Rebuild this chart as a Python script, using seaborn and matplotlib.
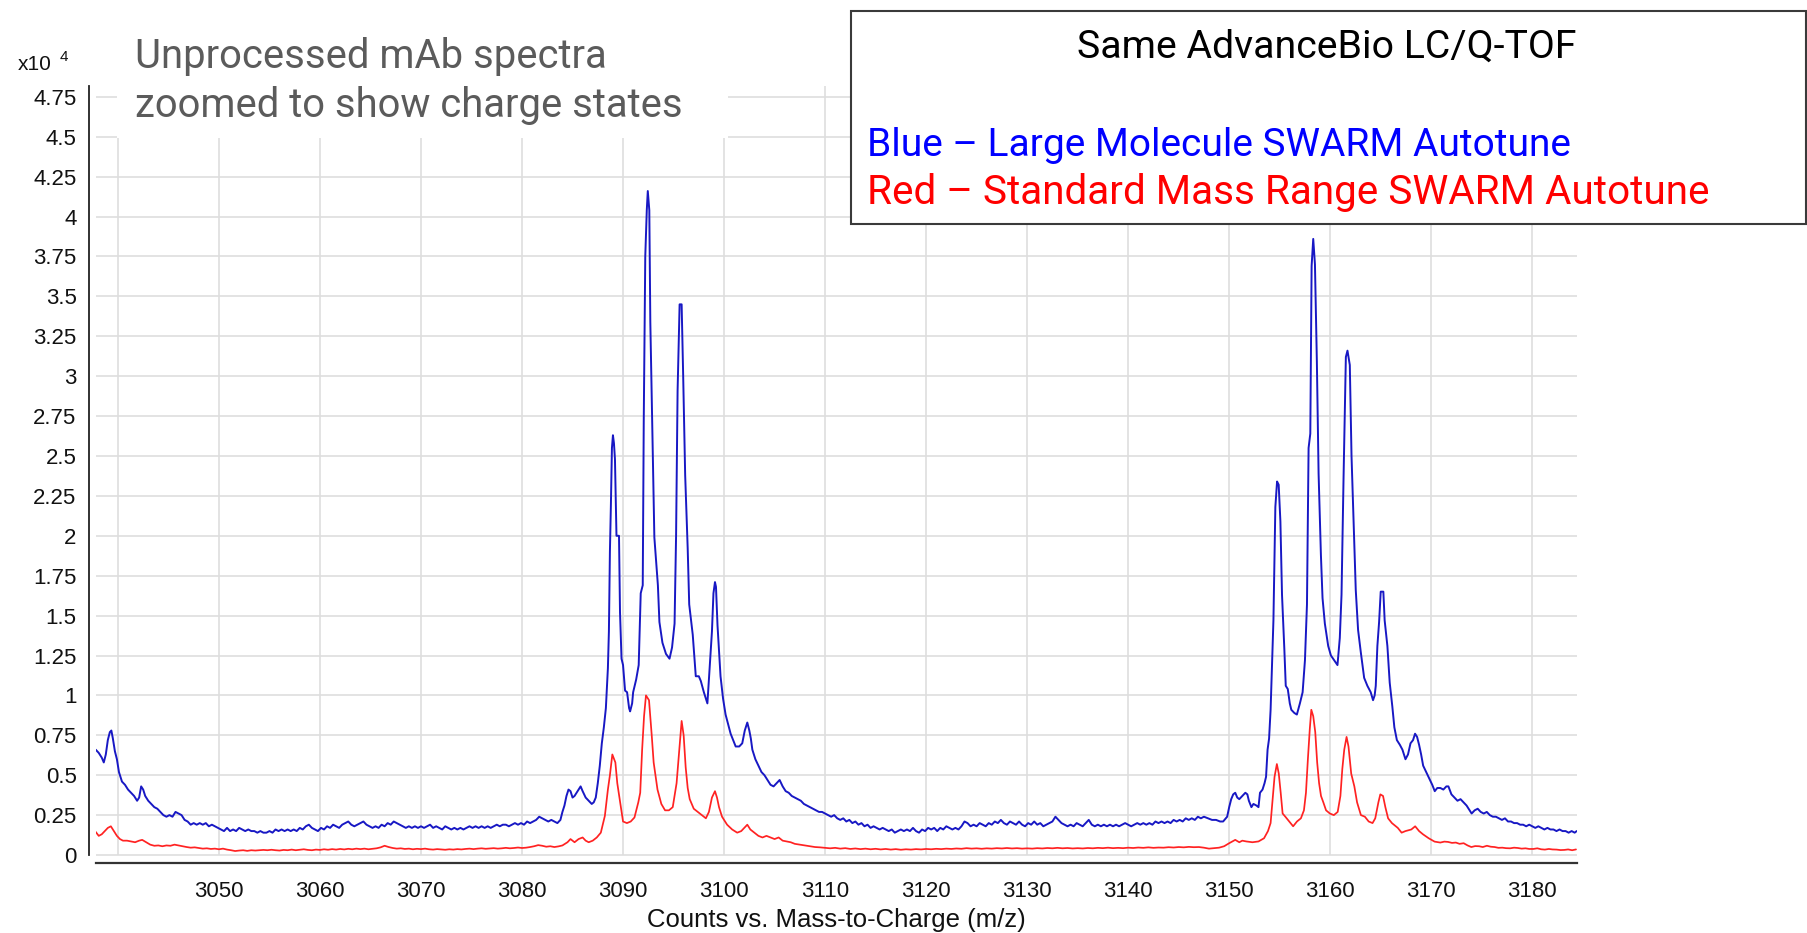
import matplotlib
matplotlib.use("Agg")
import matplotlib.pyplot as plt
import seaborn as sns
from matplotlib.patches import Rectangle
from matplotlib.ticker import FixedLocator, FuncFormatter

# ---------------------------------------------------------------- data
# Large Molecule SWARM autotune (counts x 10^4 vs m/z)
blue_mz = [
    3037.8, 3038.1, 3038.4, 3038.6, 3038.8, 3039.0, 3039.2, 3039.35, 3039.5, 3039.7,
    3039.9, 3040.1, 3040.4, 3040.7, 3041.0, 3041.3, 3041.6, 3041.9, 3042.1, 3042.3,
    3042.5, 3042.7, 3043.0, 3043.3, 3043.6, 3043.9, 3044.2, 3044.5, 3044.8, 3045.1,
    3045.4, 3045.7, 3046.0, 3046.3, 3046.6, 3046.9, 3047.2, 3047.5, 3047.8, 3048.1,
    3048.4, 3048.7, 3049.0, 3049.3, 3049.6, 3049.9, 3050.2, 3050.5, 3050.8, 3051.1,
    3051.4, 3051.7, 3052.0, 3052.3, 3052.6, 3052.9, 3053.2, 3053.5, 3053.8, 3054.1,
    3054.4, 3054.7, 3055.0, 3055.3, 3055.6, 3055.9, 3056.2, 3056.5, 3056.8, 3057.1,
    3057.4, 3057.7, 3058.0, 3058.3, 3058.6, 3058.9, 3059.2, 3059.5, 3059.8, 3060.1,
    3060.4, 3060.7, 3061.0, 3061.3, 3061.6, 3061.9, 3062.2, 3062.5, 3062.8, 3063.1,
    3063.4, 3063.7, 3064.0, 3064.3, 3064.6, 3064.9, 3065.2, 3065.5, 3065.8, 3066.1,
    3066.4, 3066.7, 3067.0, 3067.3, 3067.6, 3067.9, 3068.2, 3068.5, 3068.8, 3069.1,
    3069.4, 3069.7, 3070.0, 3070.3, 3070.6, 3070.9, 3071.2, 3071.5, 3071.8, 3072.1,
    3072.4, 3072.7, 3073.0, 3073.3, 3073.6, 3073.9, 3074.2, 3074.5, 3074.8, 3075.1,
    3075.4, 3075.7, 3076.0, 3076.3, 3076.6, 3076.9, 3077.2, 3077.5, 3077.8, 3078.1,
    3078.4, 3078.7, 3079.0, 3079.3, 3079.6, 3079.9, 3080.2, 3080.5, 3080.8, 3081.1,
    3081.4, 3081.7, 3082.0, 3082.3, 3082.6, 3082.9, 3083.2, 3083.5, 3083.8, 3084.0,
    3084.2, 3084.4, 3084.6, 3084.8, 3085.0, 3085.2, 3085.5, 3085.8, 3086.0, 3086.3,
    3086.6, 3086.9, 3087.1, 3087.3, 3087.5, 3087.7, 3087.9, 3088.1, 3088.3, 3088.5,
    3088.6, 3088.7, 3088.8, 3088.9, 3089.0, 3089.1, 3089.2, 3089.35, 3089.6, 3089.7,
    3089.85, 3090.0, 3090.2, 3090.4, 3090.6, 3090.7, 3090.9, 3091.0, 3091.3, 3091.55,
    3091.75, 3091.95, 3092.05, 3092.2, 3092.35, 3092.45, 3092.6, 3092.7, 3092.9, 3093.1,
    3093.45, 3093.6, 3093.9, 3094.25, 3094.6, 3094.85, 3095.1, 3095.25, 3095.4, 3095.6,
    3095.8, 3095.95, 3096.15, 3096.4, 3096.55, 3096.9, 3097.2, 3097.5, 3097.7, 3098.0,
    3098.2, 3098.35, 3098.5, 3098.8, 3098.95, 3099.1, 3099.2, 3099.35, 3099.65, 3099.9,
    3100.15, 3100.4, 3100.65, 3100.9, 3101.15, 3101.5, 3101.8, 3102.05, 3102.3, 3102.5,
    3102.65, 3102.8, 3103.1, 3103.4, 3103.7, 3104.0, 3104.3, 3104.6, 3104.9, 3105.2,
    3105.5, 3105.8, 3106.1, 3106.4, 3106.7, 3107.0, 3107.3, 3107.6, 3107.9, 3108.2,
    3108.5, 3108.8, 3109.1, 3109.4, 3109.7, 3110.0, 3110.3, 3110.6, 3110.9, 3111.2,
    3111.5, 3111.8, 3112.1, 3112.4, 3112.7, 3113.0, 3113.3, 3113.6, 3113.9, 3114.2,
    3114.5, 3114.8, 3115.1, 3115.4, 3115.7, 3116.0, 3116.3, 3116.6, 3116.9, 3117.2,
    3117.5, 3117.8, 3118.1, 3118.4, 3118.7, 3119.0, 3119.3, 3119.6, 3119.9, 3120.2,
    3120.5, 3120.8, 3121.1, 3121.4, 3121.7, 3122.0, 3122.3, 3122.6, 3122.9, 3123.2,
    3123.5, 3123.8, 3124.1, 3124.4, 3124.7, 3125.0, 3125.3, 3125.6, 3125.9, 3126.2,
    3126.5, 3126.8, 3127.1, 3127.4, 3127.7, 3128.0, 3128.3, 3128.6, 3128.9, 3129.2,
    3129.5, 3129.8, 3130.1, 3130.4, 3130.7, 3131.0, 3131.3, 3131.6, 3131.9, 3132.2,
    3132.5, 3132.8, 3133.1, 3133.4, 3133.7, 3134.0, 3134.3, 3134.6, 3134.9, 3135.2,
    3135.5, 3135.8, 3136.1, 3136.4, 3136.7, 3137.0, 3137.3, 3137.6, 3137.9, 3138.2,
    3138.5, 3138.8, 3139.1, 3139.4, 3139.7, 3140.0, 3140.3, 3140.6, 3140.9, 3141.2,
    3141.5, 3141.8, 3142.1, 3142.4, 3142.7, 3143.0, 3143.3, 3143.6, 3143.9, 3144.2,
    3144.5, 3144.8, 3145.1, 3145.4, 3145.7, 3146.0, 3146.3, 3146.6, 3146.9, 3147.2,
    3147.5, 3147.9, 3148.3, 3148.7, 3149.1, 3149.4, 3149.8, 3150.0, 3150.2, 3150.4,
    3150.6, 3150.8, 3151.0, 3151.3, 3151.6, 3151.8, 3151.95, 3152.2, 3152.4, 3152.7,
    3152.9, 3153.05, 3153.3, 3153.5, 3153.65, 3153.8, 3153.95, 3154.1, 3154.25, 3154.38,
    3154.57, 3154.74, 3154.9, 3155.07, 3155.23, 3155.46, 3155.6, 3155.8, 3156.0, 3156.15,
    3156.45, 3156.7, 3157.0, 3157.27, 3157.5, 3157.7, 3157.86, 3158.03, 3158.16, 3158.32,
    3158.49, 3158.68, 3158.85, 3159.08, 3159.24, 3159.47, 3159.8, 3160.07, 3160.39, 3160.72,
    3160.95, 3161.12, 3161.32, 3161.55, 3161.71, 3161.94, 3162.11, 3162.37, 3162.53, 3162.76,
    3163.03, 3163.36, 3163.68, 3164.01, 3164.24, 3164.4, 3164.51, 3164.67, 3164.84, 3165.0,
    3165.26, 3165.39, 3165.66, 3165.89, 3166.15, 3166.35, 3166.6, 3166.9, 3167.15, 3167.45,
    3167.7, 3167.95, 3168.2, 3168.4, 3168.6, 3168.8, 3169.0, 3169.2, 3169.5, 3169.8,
    3170.1, 3170.35, 3170.6, 3170.9, 3171.2, 3171.5, 3171.7, 3172.0, 3172.3, 3172.6,
    3172.9, 3173.2, 3173.5, 3173.8, 3174.0, 3174.3, 3174.6, 3174.9, 3175.2, 3175.5,
    3175.8, 3176.1, 3176.4, 3176.7, 3177.0, 3177.3, 3177.6, 3177.9, 3178.2, 3178.5,
    3178.8, 3179.1, 3179.4, 3179.7, 3180.0, 3180.3, 3180.6, 3180.9, 3181.2, 3181.5,
    3181.8, 3182.1, 3182.4, 3182.7, 3183.0, 3183.3, 3183.6, 3183.9, 3184.2, 3184.4,
]
blue_counts = [
    0.66, 0.64, 0.61, 0.58, 0.63, 0.72, 0.77, 0.78, 0.73, 0.65,
    0.60, 0.52, 0.46, 0.44, 0.41, 0.39, 0.37, 0.34, 0.36, 0.43,
    0.41, 0.37, 0.34, 0.32, 0.30, 0.29, 0.27, 0.25, 0.24, 0.25,
    0.24, 0.27, 0.26, 0.25, 0.22, 0.21, 0.19, 0.20, 0.19, 0.20,
    0.19, 0.20, 0.18, 0.19, 0.18, 0.17, 0.16, 0.15, 0.17, 0.15,
    0.16, 0.15, 0.17, 0.16, 0.15, 0.16, 0.15, 0.15, 0.14, 0.15,
    0.14, 0.14, 0.15, 0.14, 0.16, 0.15, 0.16, 0.15, 0.16, 0.15,
    0.16, 0.15, 0.17, 0.16, 0.18, 0.19, 0.17, 0.16, 0.15, 0.17,
    0.16, 0.18, 0.17, 0.19, 0.18, 0.17, 0.19, 0.20, 0.21, 0.19,
    0.18, 0.19, 0.20, 0.21, 0.19, 0.18, 0.17, 0.18, 0.17, 0.19,
    0.18, 0.20, 0.19, 0.21, 0.20, 0.19, 0.18, 0.17, 0.18, 0.17,
    0.18, 0.17, 0.18, 0.17, 0.18, 0.19, 0.17, 0.18, 0.17, 0.16,
    0.18, 0.17, 0.16, 0.17, 0.16, 0.17, 0.16, 0.17, 0.18, 0.17,
    0.18, 0.17, 0.18, 0.17, 0.18, 0.17, 0.18, 0.19, 0.18, 0.19,
    0.19, 0.18, 0.19, 0.20, 0.19, 0.20, 0.19, 0.21, 0.20, 0.21,
    0.22, 0.24, 0.23, 0.22, 0.21, 0.22, 0.21, 0.20, 0.22, 0.27,
    0.31, 0.37, 0.41, 0.40, 0.36, 0.37, 0.40, 0.43, 0.40, 0.36,
    0.34, 0.32, 0.33, 0.36, 0.45, 0.56, 0.70, 0.80, 0.92, 1.17,
    1.40, 1.90, 2.20, 2.55, 2.63, 2.58, 2.48, 2.00, 2.00, 1.52,
    1.23, 1.19, 1.03, 1.02, 0.92, 0.90, 0.95, 1.02, 1.10, 1.19,
    1.64, 1.69, 2.72, 3.75, 4.04, 4.16, 4.04, 3.34, 2.65, 1.99,
    1.69, 1.46, 1.33, 1.26, 1.23, 1.30, 1.45, 2.00, 2.91, 3.45,
    3.45, 3.01, 2.38, 1.92, 1.57, 1.38, 1.12, 1.12, 1.09, 1.02,
    0.98, 0.95, 1.10, 1.40, 1.64, 1.71, 1.68, 1.44, 1.12, 0.98,
    0.88, 0.82, 0.76, 0.72, 0.68, 0.68, 0.70, 0.78, 0.83, 0.78,
    0.73, 0.66, 0.60, 0.56, 0.52, 0.50, 0.47, 0.44, 0.43, 0.45,
    0.47, 0.43, 0.40, 0.39, 0.37, 0.36, 0.35, 0.34, 0.32, 0.31,
    0.30, 0.29, 0.28, 0.27, 0.27, 0.26, 0.25, 0.24, 0.25, 0.23,
    0.22, 0.23, 0.21, 0.22, 0.20, 0.21, 0.19, 0.20, 0.18, 0.19,
    0.17, 0.18, 0.17, 0.16, 0.17, 0.16, 0.15, 0.16, 0.14, 0.15,
    0.16, 0.15, 0.16, 0.15, 0.17, 0.15, 0.14, 0.16, 0.15, 0.17,
    0.16, 0.17, 0.15, 0.17, 0.16, 0.18, 0.17, 0.16, 0.17, 0.16,
    0.18, 0.21, 0.20, 0.18, 0.19, 0.18, 0.20, 0.19, 0.18, 0.20,
    0.19, 0.21, 0.20, 0.22, 0.20, 0.19, 0.21, 0.20, 0.19, 0.21,
    0.19, 0.18, 0.20, 0.19, 0.21, 0.19, 0.20, 0.18, 0.19, 0.20,
    0.21, 0.24, 0.22, 0.20, 0.19, 0.18, 0.19, 0.18, 0.20, 0.19,
    0.18, 0.20, 0.22, 0.19, 0.18, 0.19, 0.18, 0.19, 0.18, 0.19,
    0.18, 0.19, 0.18, 0.19, 0.20, 0.19, 0.18, 0.19, 0.20, 0.19,
    0.20, 0.19, 0.20, 0.19, 0.21, 0.20, 0.21, 0.20, 0.21, 0.20,
    0.22, 0.21, 0.22, 0.21, 0.23, 0.22, 0.23, 0.22, 0.24, 0.23,
    0.24, 0.23, 0.22, 0.22, 0.21, 0.21, 0.24, 0.30, 0.35, 0.38,
    0.39, 0.36, 0.35, 0.37, 0.39, 0.38, 0.34, 0.30, 0.32, 0.31,
    0.30, 0.39, 0.41, 0.45, 0.49, 0.66, 0.73, 0.91, 1.20, 1.47,
    2.18, 2.34, 2.32, 2.09, 1.63, 1.29, 1.06, 1.04, 0.95, 0.91,
    0.89, 0.88, 0.95, 1.02, 1.22, 1.57, 2.55, 2.64, 3.69, 3.86,
    3.70, 3.09, 2.39, 1.88, 1.61, 1.45, 1.31, 1.25, 1.22, 1.19,
    1.36, 1.63, 2.36, 3.12, 3.16, 3.07, 2.50, 1.98, 1.66, 1.41,
    1.27, 1.11, 1.06, 1.02, 0.97, 1.00, 1.06, 1.31, 1.46, 1.65,
    1.65, 1.47, 1.31, 1.08, 0.93, 0.80, 0.72, 0.69, 0.66, 0.60,
    0.63, 0.70, 0.72, 0.76, 0.74, 0.69, 0.63, 0.56, 0.52, 0.48,
    0.44, 0.40, 0.42, 0.42, 0.41, 0.43, 0.43, 0.38, 0.36, 0.34,
    0.35, 0.33, 0.31, 0.28, 0.26, 0.28, 0.29, 0.27, 0.26, 0.27,
    0.25, 0.24, 0.24, 0.23, 0.22, 0.23, 0.21, 0.21, 0.20, 0.20,
    0.19, 0.19, 0.18, 0.19, 0.18, 0.17, 0.18, 0.17, 0.16, 0.17,
    0.16, 0.16, 0.15, 0.16, 0.15, 0.15, 0.14, 0.15, 0.14, 0.15,
]

# Standard Mass Range SWARM autotune (counts x 10^4 vs m/z)
red_mz = [
    3037.8, 3038.1, 3038.4, 3038.7, 3039.0, 3039.3, 3039.6, 3039.9, 3040.2, 3040.5,
    3040.9, 3041.3, 3041.7, 3042.1, 3042.4, 3042.8, 3043.2, 3043.6, 3044.0, 3044.4,
    3044.8, 3045.2, 3045.6, 3046.0, 3046.4, 3046.8, 3047.2, 3047.6, 3048.0, 3048.4,
    3048.8, 3049.2, 3049.6, 3050.0, 3050.4, 3050.8, 3051.2, 3051.6, 3052.0, 3052.4,
    3052.8, 3053.2, 3053.6, 3054.0, 3054.4, 3054.8, 3055.2, 3055.6, 3056.0, 3056.4,
    3056.8, 3057.2, 3057.6, 3058.0, 3058.4, 3058.8, 3059.2, 3059.6, 3060.0, 3060.4,
    3060.8, 3061.2, 3061.6, 3062.0, 3062.4, 3062.8, 3063.2, 3063.6, 3064.0, 3064.4,
    3064.8, 3065.2, 3065.6, 3066.0, 3066.4, 3066.8, 3067.2, 3067.6, 3068.0, 3068.4,
    3068.8, 3069.2, 3069.6, 3070.0, 3070.4, 3070.8, 3071.2, 3071.6, 3072.0, 3072.4,
    3072.8, 3073.2, 3073.6, 3074.0, 3074.4, 3074.8, 3075.2, 3075.6, 3076.0, 3076.4,
    3076.8, 3077.2, 3077.6, 3078.0, 3078.4, 3078.8, 3079.2, 3079.6, 3080.0, 3080.4,
    3080.8, 3081.2, 3081.6, 3082.0, 3082.4, 3082.8, 3083.2, 3083.6, 3084.0, 3084.5,
    3084.8, 3085.2, 3085.6, 3086.0, 3086.3, 3086.6, 3087.0, 3087.4, 3087.8, 3088.2,
    3088.5, 3088.7, 3088.94, 3089.24, 3089.43, 3089.62, 3089.81, 3090.0, 3090.38, 3090.76,
    3091.13, 3091.51, 3091.7, 3091.89, 3092.08, 3092.27, 3092.57, 3092.84, 3093.03, 3093.41,
    3093.79, 3094.16, 3094.54, 3094.92, 3095.3, 3095.6, 3095.8, 3096.0, 3096.2, 3096.4,
    3096.6, 3097.0, 3097.4, 3097.8, 3098.2, 3098.5, 3098.8, 3099.1, 3099.3, 3099.5,
    3099.8, 3100.3, 3100.8, 3101.3, 3101.7, 3102.0, 3102.3, 3102.6, 3103.0, 3103.4,
    3103.8, 3104.2, 3104.6, 3105.0, 3105.4, 3105.8, 3106.2, 3106.6, 3107.0, 3107.5,
    3108.0, 3108.5, 3109.0, 3109.5, 3110.0, 3110.5, 3111.0, 3111.5, 3112.0, 3112.5,
    3113.0, 3113.5, 3114.0, 3114.5, 3115.0, 3115.5, 3116.0, 3116.5, 3117.0, 3117.5,
    3118.0, 3118.5, 3119.0, 3119.5, 3120.0, 3120.5, 3121.0, 3121.5, 3122.0, 3122.5,
    3123.0, 3123.5, 3124.0, 3124.5, 3125.0, 3125.5, 3126.0, 3126.5, 3127.0, 3127.5,
    3128.0, 3128.5, 3129.0, 3129.5, 3130.0, 3130.5, 3131.0, 3131.5, 3132.0, 3132.5,
    3133.0, 3133.5, 3134.0, 3134.5, 3135.0, 3135.5, 3136.0, 3136.5, 3137.0, 3137.5,
    3138.0, 3138.5, 3139.0, 3139.5, 3140.0, 3140.5, 3141.0, 3141.5, 3142.0, 3142.5,
    3143.0, 3143.5, 3144.0, 3144.5, 3145.0, 3145.5, 3146.0, 3146.5, 3147.0, 3147.5,
    3148.0, 3148.5, 3149.0, 3149.5, 3150.0, 3150.6, 3151.0, 3151.3, 3151.7, 3152.3,
    3152.9, 3153.45, 3153.84, 3154.1, 3154.33, 3154.49, 3154.72, 3154.91, 3155.1, 3155.29,
    3155.56, 3155.95, 3156.33, 3156.71, 3157.1, 3157.4, 3157.6, 3157.79, 3157.98, 3158.13,
    3158.32, 3158.52, 3158.71, 3158.9, 3159.09, 3159.32, 3159.59, 3159.97, 3160.36, 3160.74,
    3161.01, 3161.2, 3161.39, 3161.62, 3161.81, 3162.08, 3162.39, 3162.66, 3163.04, 3163.43,
    3163.81, 3164.19, 3164.46, 3164.77, 3164.96, 3165.23, 3165.46, 3165.73, 3166.11, 3166.69,
    3167.07, 3167.45, 3168.03, 3168.41, 3168.8, 3169.18, 3169.75, 3170.33, 3170.9, 3171.3,
    3171.67, 3172.05, 3172.44, 3172.8, 3173.21, 3173.6, 3173.97, 3174.35, 3174.74, 3175.1,
    3175.51, 3175.9, 3176.28, 3176.65, 3177.04, 3177.4, 3177.81, 3178.2, 3178.58, 3178.95,
    3179.34, 3179.7, 3180.11, 3180.5, 3180.88, 3181.25, 3181.64, 3182.0, 3182.41, 3182.8,
    3183.18, 3183.55, 3183.95, 3184.33,
]
red_counts = [
    0.145, 0.12, 0.13, 0.15, 0.17, 0.18, 0.15, 0.12, 0.10, 0.09,
    0.09, 0.085, 0.08, 0.09, 0.095, 0.08, 0.065, 0.058, 0.06, 0.055,
    0.06, 0.058, 0.065, 0.06, 0.055, 0.05, 0.046, 0.048, 0.044, 0.04,
    0.042, 0.038, 0.04, 0.036, 0.04, 0.034, 0.03, 0.025, 0.028, 0.03,
    0.026, 0.03, 0.028, 0.03, 0.032, 0.03, 0.033, 0.03, 0.028, 0.032,
    0.03, 0.034, 0.03, 0.033, 0.036, 0.032, 0.03, 0.034, 0.032, 0.036,
    0.033, 0.037, 0.034, 0.038, 0.035, 0.039, 0.036, 0.04, 0.037, 0.04,
    0.036, 0.039, 0.042, 0.048, 0.058, 0.05, 0.044, 0.04, 0.042, 0.038,
    0.04, 0.036, 0.039, 0.037, 0.04, 0.036, 0.034, 0.037, 0.035, 0.033,
    0.036, 0.034, 0.037, 0.035, 0.038, 0.04, 0.037, 0.04, 0.042, 0.039,
    0.041, 0.043, 0.04, 0.042, 0.045, 0.042, 0.044, 0.047, 0.044, 0.046,
    0.05, 0.055, 0.062, 0.058, 0.052, 0.055, 0.05, 0.054, 0.06, 0.08,
    0.10, 0.08, 0.10, 0.11, 0.09, 0.08, 0.09, 0.11, 0.14, 0.245,
    0.41, 0.50, 0.63, 0.58, 0.45, 0.37, 0.29, 0.21, 0.20, 0.21,
    0.235, 0.33, 0.39, 0.66, 0.87, 1.00, 0.97, 0.75, 0.58, 0.41,
    0.32, 0.28, 0.28, 0.30, 0.45, 0.68, 0.84, 0.75, 0.55, 0.42,
    0.35, 0.29, 0.27, 0.25, 0.23, 0.27, 0.36, 0.40, 0.36, 0.30,
    0.24, 0.19, 0.16, 0.14, 0.15, 0.17, 0.19, 0.16, 0.14, 0.12,
    0.11, 0.12, 0.11, 0.10, 0.11, 0.09, 0.085, 0.08, 0.07, 0.065,
    0.06, 0.055, 0.05, 0.048, 0.045, 0.042, 0.045, 0.04, 0.043, 0.038,
    0.041, 0.037, 0.04, 0.036, 0.039, 0.035, 0.038, 0.034, 0.037, 0.033,
    0.036, 0.034, 0.037, 0.035, 0.038, 0.036, 0.039, 0.037, 0.04, 0.038,
    0.041, 0.039, 0.043, 0.04, 0.042, 0.039, 0.042, 0.04, 0.043, 0.041,
    0.044, 0.041, 0.043, 0.04, 0.042, 0.04, 0.043, 0.041, 0.044, 0.042,
    0.045, 0.042, 0.044, 0.041, 0.043, 0.041, 0.044, 0.042, 0.045, 0.043,
    0.046, 0.043, 0.045, 0.043, 0.046, 0.044, 0.047, 0.045, 0.048, 0.045,
    0.047, 0.046, 0.049, 0.047, 0.05, 0.048, 0.051, 0.049, 0.05, 0.046,
    0.04, 0.043, 0.046, 0.055, 0.074, 0.095, 0.08, 0.09, 0.085, 0.08,
    0.085, 0.105, 0.15, 0.20, 0.37, 0.49, 0.57, 0.51, 0.39, 0.26,
    0.24, 0.21, 0.18, 0.21, 0.23, 0.28, 0.39, 0.60, 0.79, 0.91,
    0.87, 0.77, 0.58, 0.45, 0.37, 0.33, 0.28, 0.26, 0.25, 0.27,
    0.37, 0.54, 0.66, 0.74, 0.68, 0.51, 0.43, 0.33, 0.25, 0.24,
    0.21, 0.20, 0.23, 0.33, 0.38, 0.37, 0.30, 0.23, 0.20, 0.17,
    0.14, 0.15, 0.16, 0.18, 0.15, 0.13, 0.105, 0.084, 0.078, 0.084,
    0.082, 0.076, 0.078, 0.07, 0.074, 0.06, 0.05, 0.056, 0.055, 0.05,
    0.058, 0.052, 0.05, 0.045, 0.046, 0.043, 0.042, 0.046, 0.044, 0.04,
    0.042, 0.038, 0.038, 0.042, 0.036, 0.034, 0.038, 0.035, 0.034, 0.031,
    0.032, 0.035, 0.03, 0.035,
]

x_ticks = [3040, 3050, 3060, 3070, 3080, 3090, 3100, 3110, 3120, 3130, 3140, 3150, 3160, 3170, 3180]
x_tick_labels = ["", "3050", "3060", "3070", "3080", "3090", "3100", "3110", "3120",
                 "3130", "3140", "3150", "3160", "3170", "3180"]
y_ticks = [0, 0.25, 0.5, 0.75, 1, 1.25, 1.5, 1.75, 2, 2.25, 2.5, 2.75, 3, 3.25, 3.5,
           3.75, 4, 4.25, 4.5, 4.75]

title_lines = ["Unprocessed mAb spectra", "zoomed to show charge states"]
box_title = "Same AdvanceBio LC/Q-TOF"
blue_label = "Blue \u2013 Large Molecule SWARM Autotune"
red_label = "Red \u2013 Standard Mass Range SWARM Autotune"
x_label = "Counts vs. Mass-to-Charge (m/z)"

# ---------------------------------------------------------------- style
sns.set_theme(style="white")
plt.rcParams["font.family"] = ["Liberation Sans", "DejaVu Sans"]

W, H = 1808, 933
fig = plt.figure(figsize=(W / 100, H / 100), dpi=100)


def fx(px):
    return px / W


def fy(py):
    return 1 - py / H


ax_left, ax_right, ax_top, ax_bottom = 95.7, 1576.7, 86.0, 863.0
ax = fig.add_axes([fx(ax_left), fy(ax_bottom), fx(ax_right - ax_left), (ax_bottom - ax_top) / H])

x_min, x_max = 3037.8, 3184.4
y_min, y_max = -0.05, 4.818

# grid drawn by hand so the vertical lines stop at zero
grid_col = "#dedede"
ax.hlines(y_ticks, x_min, x_max, colors=grid_col, linewidth=1.2, zorder=0)
ax.vlines(x_ticks, 0, y_max, colors=grid_col, linewidth=1.2, zorder=0)

sns.lineplot(x=blue_mz, y=blue_counts, ax=ax, color="#1818c4", linewidth=1.4,
             estimator=None, sort=False, zorder=3)
sns.lineplot(x=red_mz, y=red_counts, ax=ax, color="#ff2222", linewidth=1.25,
             estimator=None, sort=False, zorder=2)

ax.set_xlim(x_min, x_max)
ax.set_ylim(y_min, y_max)

ax.xaxis.set_major_locator(FixedLocator(x_ticks))
ax.set_xticklabels(x_tick_labels)
ax.yaxis.set_major_locator(FixedLocator(y_ticks))
ax.yaxis.set_major_formatter(FuncFormatter(lambda v, p: f"{v:g}"))

for s in ("top", "right"):
    ax.spines[s].set_visible(False)
ax.spines["left"].set_position(("outward", 4.8))
ax.spines["left"].set_bounds(0, y_max)
ax.spines["left"].set_color("#222222")
ax.spines["left"].set_linewidth(1.3)
ax.spines["bottom"].set_color("#333333")
ax.spines["bottom"].set_linewidth(1.6)

ax.tick_params(axis="both", which="major", direction="out", length=6, width=1.1,
               color="#222222", labelsize=16, labelcolor="#111111")
ax.tick_params(axis="x", pad=7)
ax.tick_params(axis="y", pad=3)
ax.set_xlabel(x_label, fontsize=18.5, color="#111111", labelpad=4)
ax.set_ylabel("")

# multiplier of the intensity axis
fig.text(fx(18), fy(70), "x10", fontsize=15, color="#111111", va="baseline", ha="left")
fig.text(fx(60), fy(61), "4", fontsize=11, color="#111111", va="baseline", ha="left")

# white panel behind the annotation at top left
fig.add_artist(Rectangle((fx(117), fy(138)), fx(728 - 117), (138 - 84) / H,
                         transform=fig.transFigure, facecolor="white",
                         edgecolor="none", zorder=2))
fig.text(fx(135), fy(68), title_lines[0], family="Roboto", fontsize=28.8,
         color="#5b5b5b", va="baseline", ha="left", zorder=3)
fig.text(fx(135), fy(117), title_lines[1], family="Roboto", fontsize=28.8,
         color="#5b5b5b", va="baseline", ha="left", zorder=3)

# boxed description of the two traces
bx0, bx1, by0, by1 = 851, 1806, 11.5, 224
fig.add_artist(Rectangle((fx(bx0), fy(by1)), fx(bx1 - bx0), (by1 - by0) / H,
                         transform=fig.transFigure, facecolor="white",
                         edgecolor="#3a3a3a", linewidth=1.5, zorder=2))
fig.text(fx(1327), fy(58), box_title, family="Roboto", fontsize=28.3,
         color="black", va="baseline", ha="center", zorder=3)
fig.text(fx(867), fy(156), blue_label, family="Roboto", fontsize=28,
         color="#0000ff", va="baseline", ha="left", zorder=3)
fig.text(fx(867), fy(204), red_label, family="Roboto", fontsize=29.2,
         color="#ff0000", va="baseline", ha="left", zorder=3)

fig.savefig("out.png", dpi=100, facecolor="white")
